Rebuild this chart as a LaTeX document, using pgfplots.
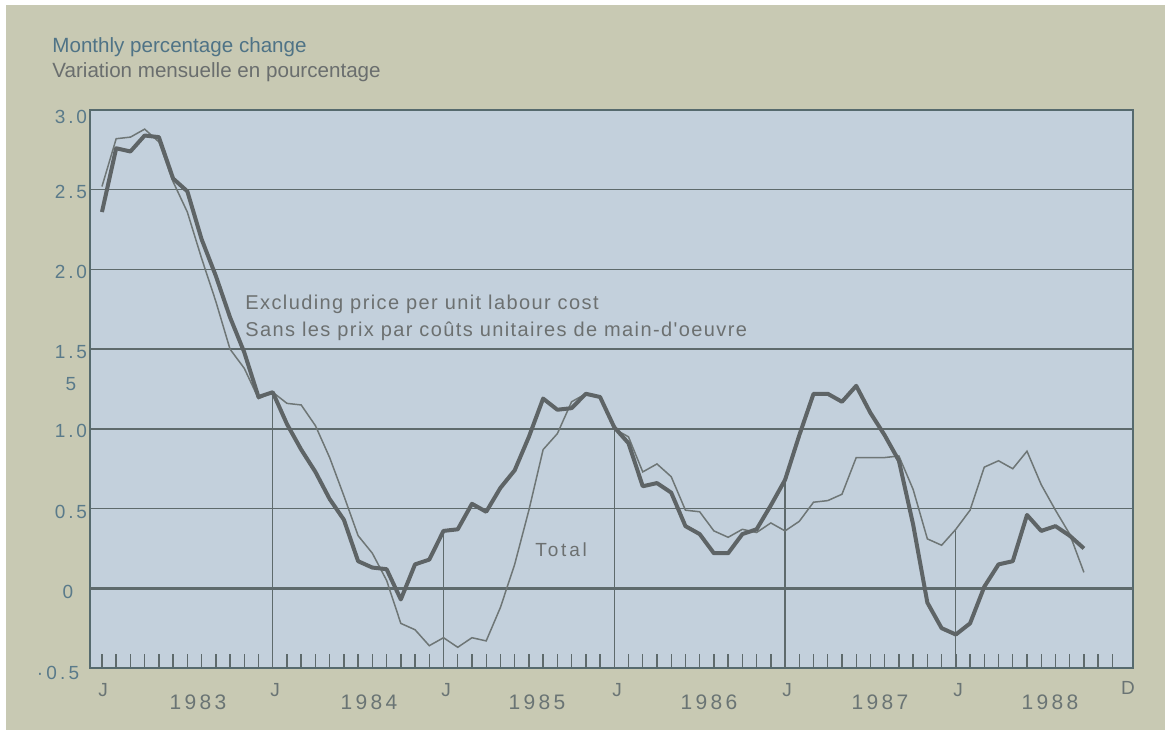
\documentclass[border=0pt]{standalone}
\usepackage{pgfplots}
\pgfplotsset{compat=1.18}
\usepackage{fontspec}
\setmainfont{Liberation Sans}
\newfontfamily\spaced[LetterSpace=15]{Liberation Sans}
\newfontfamily\spacedB[LetterSpace=7]{Liberation Sans}
\newfontfamily\spacedC[LetterSpace=16]{Liberation Sans}
\definecolor{beige}{HTML}{C8C9B3}
\definecolor{plotbg}{HTML}{C3D0DC}
\definecolor{framec}{HTML}{566A6E}
\definecolor{gridc}{HTML}{5E6A6C}
\definecolor{tickc}{HTML}{5E6A6C}
\definecolor{thickc}{HTML}{5E6466}
\definecolor{thinc}{HTML}{6E7676}
\definecolor{titleA}{HTML}{4F7386}
\definecolor{titleB}{HTML}{6A6E6E}
\definecolor{ylab}{HTML}{5A7A8A}
\definecolor{xlab}{HTML}{6A7474}
\definecolor{inlab}{HTML}{6C7070}
\begin{document}
\begin{tikzpicture}
\begin{scope}[x=0.5pt,y=-0.5pt]
\useasboundingbox (0,0) rectangle (1169,730);
\fill[white] (0,0) rectangle (1169,730);
\fill[beige] (6,5) rectangle (1165,730);
\end{scope}
\begin{axis}[
  at={(45pt,-334pt)}, anchor=south west,
  scale only axis, width=521.5pt, height=279pt,
  xmin=-0.84, xmax=72.45, ymin=-0.5, ymax=3.0,
  axis background/.style={fill=plotbg},
  axis line style={framec, line width=1pt},
  xtick={0,...,71}, xticklabels={}, xtick pos=bottom,
  tick align=inside, major tick length=7pt,
  xtick style={tickc, line width=0.7pt},
  ytick={0.5,1,1.5,2,2.5}, yticklabels={}, ytick style={draw=none},
  ymajorgrids, grid style={gridc, line width=0.75pt},
]
% year boundary lines
\addplot[gridc, line width=0.6pt] coordinates {(12,-0.5) (12,1.23)};
\addplot[gridc, line width=0.6pt] coordinates {(24,-0.5) (24,0.36)};
\addplot[gridc, line width=0.6pt] coordinates {(36,-0.5) (36,1.01)};
\addplot[gridc, line width=0.6pt] coordinates {(48,-0.5) (48,0.68)};
\addplot[gridc, line width=0.6pt] coordinates {(60,-0.5) (60,0.37)};
% zero line
\addplot[gridc, line width=1.5pt] coordinates {(-0.84,0) (72.45,0)};
% Total (thin)
\addplot[thinc, line width=0.75pt] coordinates {
(0,2.52) (1,2.82) (2,2.83) (3,2.88) (4,2.80) (5,2.55) (6,2.36) (7,2.07) (8,1.80) (9,1.50)
(10,1.38) (11,1.19) (12,1.23) (13,1.16) (14,1.15) (15,1.02) (16,0.82) (17,0.58) (18,0.33) (19,0.22)
(20,0.05) (21,-0.22) (22,-0.26) (23,-0.36) (24,-0.31) (25,-0.37) (26,-0.31) (27,-0.33) (28,-0.12) (29,0.15)
(30,0.49) (31,0.87) (32,0.97) (33,1.17) (34,1.22) (35,1.20) (36,1.00) (37,0.95) (38,0.73) (39,0.78)
(40,0.70) (41,0.49) (42,0.48) (43,0.36) (44,0.32) (45,0.37) (46,0.35) (47,0.41) (48,0.36) (49,0.42)
(50,0.54) (51,0.55) (52,0.59) (53,0.82) (54,0.82) (55,0.82) (56,0.83) (57,0.62) (58,0.31) (59,0.27)
(60,0.37) (61,0.49) (62,0.76) (63,0.80) (64,0.75) (65,0.86) (66,0.65) (67,0.49) (68,0.34) (69,0.10)
};
% Excluding price per unit labour cost (thick)
\addplot[thickc, line width=2pt, line join=round] coordinates {
(0,2.36) (1,2.76) (2,2.74) (3,2.84) (4,2.83) (5,2.57) (6,2.49) (7,2.19) (8,1.96) (9,1.70)
(10,1.48) (11,1.20) (12,1.23) (13,1.03) (14,0.87) (15,0.73) (16,0.56) (17,0.43) (18,0.17) (19,0.13)
(20,0.12) (21,-0.07) (22,0.15) (23,0.18) (24,0.36) (25,0.37) (26,0.53) (27,0.48) (28,0.63) (29,0.74)
(30,0.95) (31,1.19) (32,1.12) (33,1.13) (34,1.22) (35,1.20) (36,1.01) (37,0.91) (38,0.64) (39,0.66)
(40,0.60) (41,0.39) (42,0.34) (43,0.22) (44,0.22) (45,0.34) (46,0.37) (47,0.52) (48,0.68) (49,0.96)
(50,1.22) (51,1.22) (52,1.17) (53,1.27) (54,1.10) (55,0.96) (56,0.80) (57,0.40) (58,-0.09) (59,-0.25)
(60,-0.29) (61,-0.22) (62,0.01) (63,0.15) (64,0.17) (65,0.46) (66,0.36) (67,0.39) (68,0.33) (69,0.25)
};
\end{axis}
\begin{scope}[x=0.5pt,y=-0.5pt]
% titles
\node[anchor=base west, inner sep=0, text=titleA, font=\fontsize{10.3}{12}\selectfont] at (52,52) {Monthly percentage change};
\node[anchor=base west, inner sep=0, text=titleB, font=\fontsize{10.3}{12}\selectfont] at (52,77) {Variation mensuelle en pourcentage};
% inner labels
\node[anchor=base west, inner sep=0, text=inlab, font=\spacedB\fontsize{10}{11}\selectfont] at (245,309) {Excluding price per unit labour cost};
\node[anchor=base west, inner sep=0, text=inlab, font=\spacedB\fontsize{10}{11}\selectfont] at (245,336) {Sans les prix par coûts unitaires de main-d'oeuvre};
\node[anchor=base west, inner sep=0, text=inlab, font=\spaced\fontsize{9.5}{11}\selectfont] at (535,556) {Total};
% y labels
\begin{scope}[every node/.style={text=ylab, font=\spaced\fontsize{9.5}{11}\selectfont, inner sep=0}]
\node at (71,117) {3.0};
\node at (71,192) {2.5};
\node at (71,272) {2.0};
\node at (71,352) {1.5};
\node at (71,384) {5};
\node at (71,431) {1.0};
\node at (71,512) {0.5};
\node at (68,592) {0};
\node at (58,673) {{\textperiodcentered}\,0\,.\,5};
\end{scope}
% x labels
\begin{scope}[every node/.style={text=xlab, font=\spaced\fontsize{9.5}{11}\selectfont, inner sep=0}]
\node at (103,690) {J};
\node at (275,690) {J};
\node at (446,690) {J};
\node at (617,690) {J};
\node at (787,690) {J};
\node at (958,690) {J};
\node at (1128,688) {D};
\end{scope}
\begin{scope}[every node/.style={text=xlab, font=\spacedC\fontsize{10.5}{12}\selectfont, inner sep=0}]
\node at (198,702) {1983};
\node at (369,702) {1984};
\node at (537,702) {1985};
\node at (709,702) {1986};
\node at (880,702) {1987};
\node at (1050,702) {1988};
\end{scope}
\end{scope}
\end{tikzpicture}
\end{document}
